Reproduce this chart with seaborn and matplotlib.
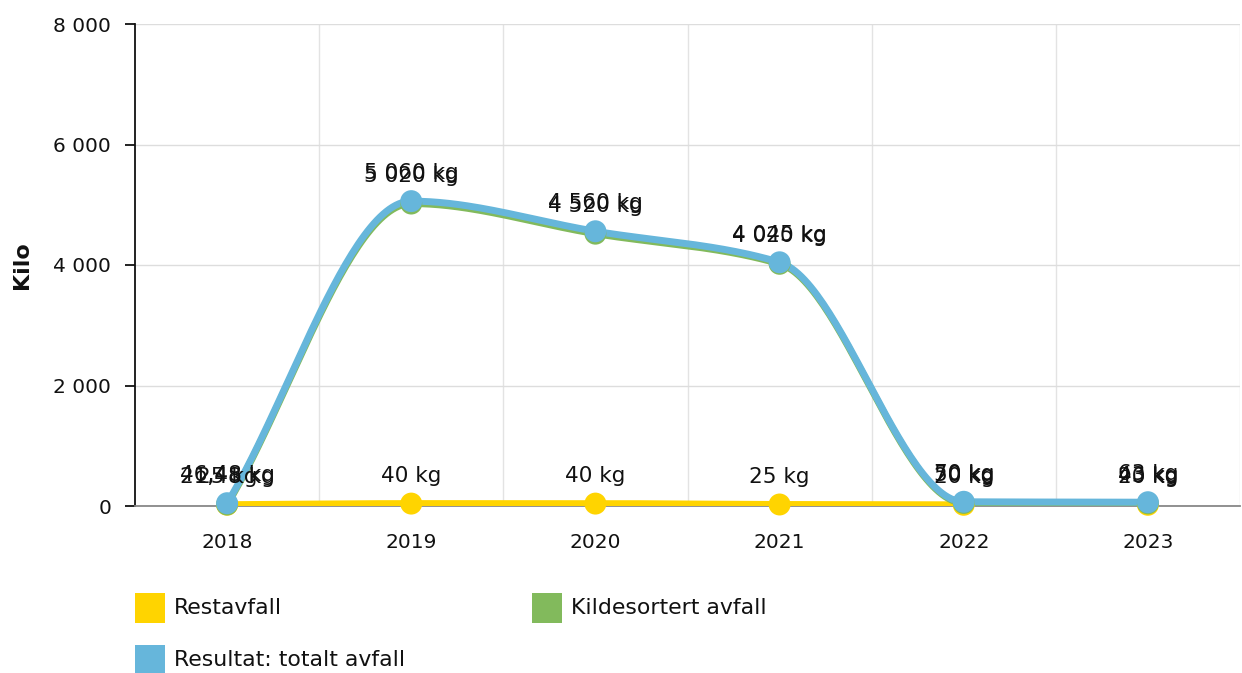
import numpy as np
import pandas as pd
import matplotlib
matplotlib.use("Agg")
import matplotlib.pyplot as plt
from matplotlib.patches import Rectangle
import seaborn as sns

years = ["2018", "2019", "2020", "2021", "2022", "2023"]
restavfall = [21.48, 40, 40, 25, 20, 20]
kildesortert = [25, 5020, 4520, 4020, 50, 43]
totalt = [46.48, 5060, 4560, 4045, 70, 63]
series_names = ["Restavfall", "Kildesortert avfall", "Resultat: totalt avfall"]
colors = ["#FFD400", "#82BA5C", "#66B6DB"]
y_ticks = [0, 2000, 4000, 6000, 8000]


def smooth_path(xs, ys, n=60):
    """Monotone cubic (harmonic-mean tangents) path through the data points - drawing style only."""
    xs = np.asarray(xs, float); ys = np.asarray(ys, float)
    m = len(xs)
    h = np.diff(xs); d = np.diff(ys) / h
    t = np.zeros(m)
    t[0] = d[0]; t[-1] = d[-1]
    for i in range(1, m - 1):
        if d[i - 1] * d[i] <= 0:
            t[i] = 0.0
        else:
            t[i] = 2.0 / (1.0 / d[i - 1] + 1.0 / d[i])
    u = np.linspace(0, 1, n)
    h00 = 2 * u**3 - 3 * u**2 + 1; h10 = u**3 - 2 * u**2 + u
    h01 = -2 * u**3 + 3 * u**2; h11 = u**3 - u**2
    ox, oy = [xs[0]], [ys[0]]
    for i in range(m - 1):
        yy = h00 * ys[i] + h10 * h[i] * t[i] + h01 * ys[i + 1] + h11 * h[i] * t[i + 1]
        xx = xs[i] + u * h[i]
        ox.extend(xx[1:]); oy.extend(yy[1:])
    return np.array(ox), np.array(oy)


def fmt_kg(v):
    if float(v).is_integer():
        s = f"{int(v):,}".replace(",", " ")
    else:
        s = f"{v:.2f}".replace(".", ",")
    return f"{s} kg"


sns.set_theme(style="white")
plt.rcParams["font.family"] = ["DejaVu Sans"]

FS = 14.5
fig = plt.figure(figsize=(12.42, 6.73), dpi=100)
ax = fig.add_axes([135 / 1242, (673 - 506) / 673, (1240 - 135) / 1242, 482 / 673])

x = np.arange(len(years))
all_series = [restavfall, kildesortert, totalt]

for vals, col, name in zip(all_series, colors, series_names):
    sx, sy = smooth_path(x, vals)
    df_line = pd.DataFrame({"x": sx, "y": sy})
    sns.lineplot(data=df_line, x="x", y="y", ax=ax, color=col, linewidth=5,
                 sort=False, estimator=None, zorder=3)
    df_pts = pd.DataFrame({"x": x, "y": vals})
    sns.scatterplot(data=df_pts, x="x", y="y", ax=ax, color=col, s=250,
                    edgecolor="none", zorder=4, clip_on=False)

for vals in all_series:
    for xi, v in zip(x, vals):
        ax.annotate(fmt_kg(v), (xi, v), xytext=(0, 20), textcoords="offset points",
                    ha="center", va="center", fontsize=15.5, color="#111111", zorder=6)

ax.set_xlim(-0.5, (1240 - 228) / 186.2)
ax.set_ylim(0, 8000)
ax.set_yticks(y_ticks)
ax.set_yticklabels([f"{t:,}".replace(",", " ") for t in y_ticks], fontsize=FS, color="#111111")
ax.set_xticks(x)
ax.set_xticklabels(years, fontsize=FS, color="#111111")
ax.set_xticks(np.arange(0.5, len(years), 1), minor=True)
ax.tick_params(axis="x", which="both", length=0, pad=19.5)
ax.tick_params(axis="y", which="major", length=7.2, width=1.3, color="#111111", left=True, pad=10)
ax.grid(False)
ax.grid(True, axis="y", which="major", color="#dddddd", linewidth=1)
ax.grid(True, axis="x", which="minor", color="#e3e3e3", linewidth=1)
ax.set_xlabel("")
ax.set_ylabel("Kilo", fontsize=16, fontweight="bold", color="#111111", labelpad=15)
for side in ["top", "right"]:
    ax.spines[side].set_visible(False)
ax.spines["left"].set_color("#111111")
ax.spines["left"].set_linewidth(1.3)
ax.spines["bottom"].set_color("#888888")
ax.spines["bottom"].set_linewidth(1.3)
ax.set_axisbelow(True)

# legend
legend_pos = [(135, 593), (532, 593), (135, 645)]
for (lx, ly), col, name in zip(legend_pos, colors, series_names):
    fig.patches.append(Rectangle((lx / 1242, 1 - (ly + 30) / 673), 30 / 1242, 30 / 673,
                                 transform=fig.transFigure, facecolor=col, edgecolor="none"))
    fig.text((lx + 39) / 1242, 1 - (ly + 15) / 673, name, fontsize=15.8, color="#111111",
             ha="left", va="center")

fig.savefig("out.png", dpi=100)
